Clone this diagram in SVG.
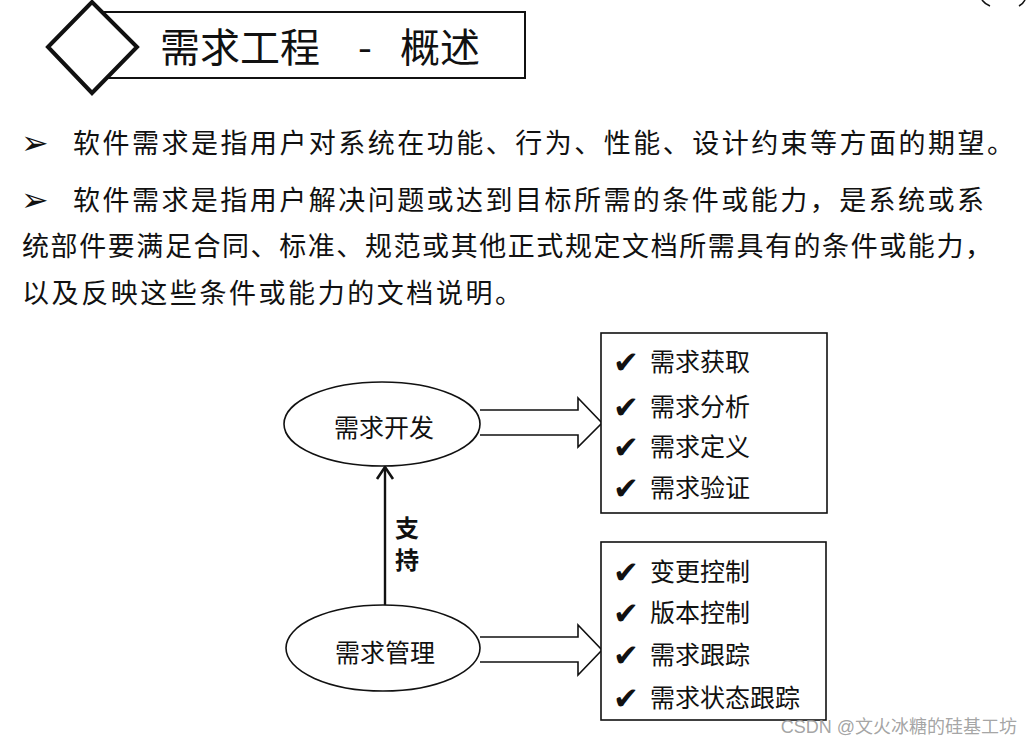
<svg xmlns="http://www.w3.org/2000/svg" width="1033" height="746" viewBox="0 0 1033 746">
<style>
.cjk{font-family:"Noto Sans CJK SC","Liberation Sans",sans-serif;fill:#111}
.body{font-size:27px}
.item{font-size:25px}
.chk{font-family:"DejaVu Sans",sans-serif;font-size:31px;fill:#111}
.bul{font-family:"DejaVu Sans",sans-serif;font-size:33px;fill:#111}
.shape{fill:#fff;stroke:#111;stroke-width:1.6}
.line{fill:none;stroke:#111;stroke-width:1.6}
</style>
<defs>
<marker id="open" viewBox="0 0 20 20" refX="17" refY="10" markerWidth="20" markerHeight="20" markerUnits="userSpaceOnUse" orient="auto">
<path d="M5,2 L17,10 L5,18" fill="none" stroke="#111" stroke-width="2.6"/>
</marker>
</defs>
<rect width="1033" height="746" fill="#fff"/>

<g id="header">
<rect x="95" y="12" width="430" height="66" fill="#fff" stroke="#111" stroke-width="2"/>
<polygon points="48,47 92,2 137,47 92,93" fill="#fff" stroke="#111" stroke-width="4"/>
<text class="cjk" x="160" y="62" font-size="40">需求工程<tspan x="358">-</tspan><tspan x="400">概述</tspan></text>
</g>
<g id="corner-fragment">
<path d="M982,0 Q985,4 990,6" class="line" stroke-width="2.5"/>
<path d="M1025,0 Q1023,4 1019,6" class="line" stroke-width="2.5"/>
</g>

<g id="paragraphs">
<text class="bul" x="21" y="154">➢</text>
<text class="cjk body" x="73" y="153" textLength="941" lengthAdjust="spacing">软件需求是指用户对系统在功能、行为、性能、设计约束等方面的期望。</text>
<text class="bul" x="21" y="211">➢</text>
<text class="cjk body" x="73" y="210" textLength="911" lengthAdjust="spacing">软件需求是指用户解决问题或达到目标所需的条件或能力，是系统或系</text>
<text class="cjk body" x="22" y="256" textLength="970" lengthAdjust="spacing">统部件要满足合同、标准、规范或其他正式规定文档所需具有的条件或能力，</text>
<text class="cjk body" x="22" y="303" textLength="500" lengthAdjust="spacing">以及反映这些条件或能力的文档说明。</text>
</g>

<g id="connectors">
<path class="shape" d="M480,410 L578,410 L578,398 L602,423 L578,447 L578,435 L480,435"/>
<path class="shape" d="M480,637 L578,637 L578,625 L602,650 L578,675 L578,662 L480,662"/>
<line x1="385" y1="605" x2="385" y2="467" stroke="#111" stroke-width="2.4" marker-end="url(#open)"/>
<text class="cjk" x="395" y="537" font-size="24" font-weight="bold">支</text>
<text class="cjk" x="395" y="569" font-size="24" font-weight="bold">持</text>
</g>

<g id="node-dev">
<ellipse class="shape" cx="382" cy="424" rx="98" ry="42"/>
<text class="cjk item" x="384" y="437" text-anchor="middle">需求开发</text>
</g>

<g id="node-mgmt">
<ellipse class="shape" cx="383" cy="648" rx="97" ry="43"/>
<text class="cjk item" x="385" y="662" text-anchor="middle">需求管理</text>
</g>

<g id="list-dev">
<rect class="shape" x="601" y="333" width="226" height="180"/>
<text class="chk" x="613" y="373">✔</text><text class="cjk item" x="650" y="371">需求获取</text>
<text class="chk" x="613" y="418">✔</text><text class="cjk item" x="650" y="416">需求分析</text>
<text class="chk" x="613" y="458">✔</text><text class="cjk item" x="650" y="456">需求定义</text>
<text class="chk" x="613" y="499">✔</text><text class="cjk item" x="650" y="497">需求验证</text>
</g>

<g id="list-mgmt">
<rect class="shape" x="601" y="542" width="225" height="178"/>
<text class="chk" x="613" y="583">✔</text><text class="cjk item" x="650" y="581">变更控制</text>
<text class="chk" x="613" y="624">✔</text><text class="cjk item" x="650" y="622">版本控制</text>
<text class="chk" x="613" y="666">✔</text><text class="cjk item" x="650" y="664">需求跟踪</text>
<text class="chk" x="613" y="709">✔</text><text class="cjk item" x="650" y="707">需求状态跟踪</text>
</g>

<g id="watermark">
<text x="1017" y="733" text-anchor="end" font-family="Liberation Sans,'Noto Sans CJK SC',sans-serif" font-size="18" fill="#9a9a9a" fill-opacity="0.9">CSDN @文火冰糖的硅基工坊</text>
</g>
</svg>
